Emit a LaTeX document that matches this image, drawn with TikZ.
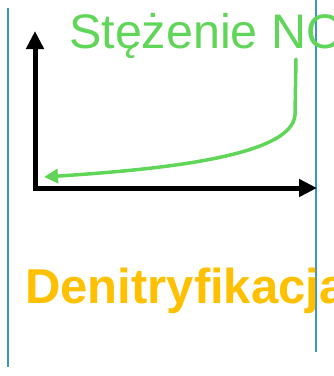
\documentclass[tikz,border=0pt]{standalone}
\usepackage{fontspec}
\setmainfont{Liberation Sans}
\usetikzlibrary{arrows.meta}
\definecolor{guide}{RGB}{60,150,195}
\definecolor{nogreen}{RGB}{96,214,88}
\definecolor{denorange}{RGB}{255,192,0}
\tikzset{
  guideline/.style={guide, line width=1.2pt},
  axis/.style={black, line width=5pt, -{Triangle[length=18pt,width=17pt]}},
  curve/.style={nogreen, line width=3.5pt, line cap=round, -{Triangle[length=14pt,width=14pt]}},
}
\begin{document}
\begin{tikzpicture}[x=1pt,y=-1pt]
\useasboundingbox (0,0) rectangle (334,376);
\clip (0,0) rectangle (334,376);
\draw[guideline] (8,8) -- (8,367);
\draw[guideline] (316,0) -- (316,352);
\node[anchor=base west, inner sep=0pt, text=nogreen, font=\fontsize{48.5}{52}\selectfont] (title) at (69,48) {Stężenie NO};
\coordinate (origin) at (35,188);
\coordinate (ytip) at (35,31);
\coordinate (xtip) at (317,188);
\draw[axis] ([yshift=2.5pt]origin) -- (ytip);
\draw[axis] ([xshift=-2.5pt]origin) -- (xtip);
\coordinate (cstart) at (296,59);
\coordinate (cend) at (44,177);
\draw[curve] (cstart) -- (295,115) .. controls (292,158) and (150,170) .. (cend);
\node[anchor=base west, inner sep=0pt, text=denorange, font=\bfseries\fontsize{49}{52}\selectfont] (den) at (25,303) {Denitryfikacja};
\end{tikzpicture}
\end{document}
